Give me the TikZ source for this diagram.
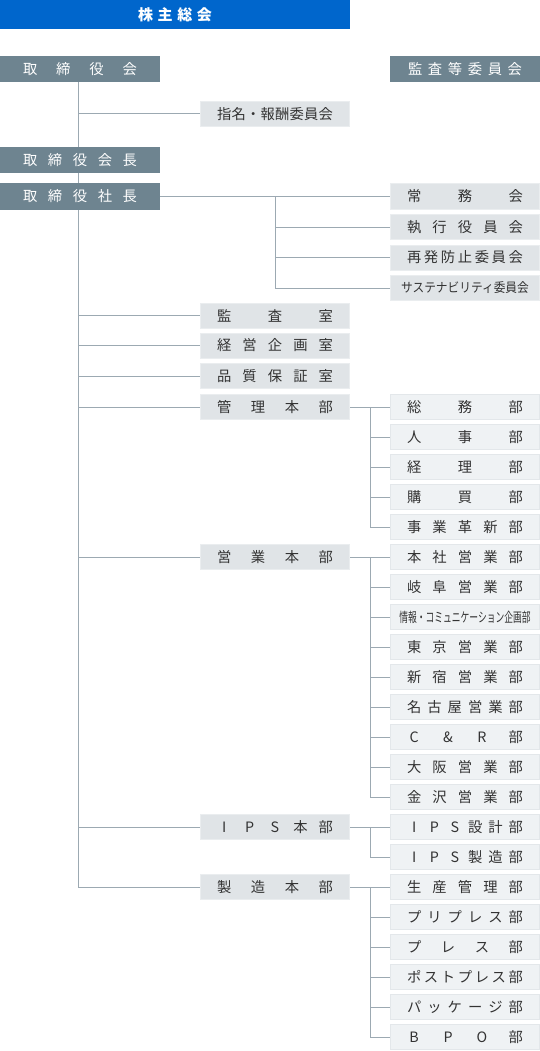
\documentclass[tikz,border=0pt]{standalone}
\usepackage{fontspec}
\setmainfont{Noto Sans CJK JP}
\usepackage{graphicx}
\usetikzlibrary{backgrounds}
\definecolor{blueh}{HTML}{0066CC}
\definecolor{headc}{HTML}{6E8490}
\definecolor{midc}{HTML}{E0E4E7}
\definecolor{midb}{HTML}{EAEDEF}
\definecolor{subc}{HTML}{EFF2F4}
\definecolor{subb}{HTML}{E3E7EA}
\definecolor{linec}{HTML}{9CA9B2}
\definecolor{txtc}{HTML}{333333}
\newlength\distw
\setlength\distw{116pt}
\makeatletter
\def\dist#1{\makebox[\distw][s]{\dist@a#1\@nil}}
\def\dist@a#1#2\@nil{\makebox[1em]{#1}\ifx\relax#2\relax\else\hfill\dist@a#2\@nil\fi}
\makeatother
\begin{document}
\begin{tikzpicture}[x=1pt,y=-1pt,
  head/.style={fill=headc, text=white, minimum width=160pt, minimum height=26pt, inner sep=0pt, font=\fontsize{14.3}{14.3}\selectfont},
  mid/.style={fill=midc, draw=midb, line width=0.8pt, minimum width=149.2pt, minimum height=25.2pt, inner sep=0pt, text=txtc, font=\fontsize{14.3}{14.3}\selectfont},
  sub/.style={mid, fill=subc, draw=subb},
  conn/.style={draw=linec, line width=1pt}]
\useasboundingbox (0,0) rectangle (540,1051);
% top
\node[fill=blueh, text=white, minimum width=350pt, minimum height=29pt, inner sep=0pt, font=\fontsize{15}{15}\selectfont\bfseries] (kabu) at (175,14.5) {\setlength\distw{74pt}\dist{株主総会}};
\node[head] (tori) at (80,69) {\setlength\distw{114pt}\dist{取締役会}};
\node[head, minimum width=150pt] (kansa) at (465,69) {\setlength\distw{114pt}\dist{監査等委員会}};
\node[mid] (shimei) at (275,114) {\dist{指名・報酬委員会}};
\node[head] (kaicho) at (80,160) {\setlength\distw{114pt}\dist{取締役会長}};
\node[head] (shacho) at (80,196.5) {\setlength\distw{114pt}\dist{取締役社長}};
% committees
\node[mid] (jomu) at (465,196.5) {\dist{常務会}};
\node[mid] (shikko) at (465,227) {\dist{執行役員会}};
\node[mid] (saihatsu) at (465,257.5) {\dist{再発防止委員会}};
\node[mid] (sus) at (465,288) {\fontsize{13}{13}\selectfont\scalebox{0.9}[1]{サステナビリティ委員会}};
% middle column
\node[mid] (kansashitsu) at (275,315.5) {\dist{監査室}};
\node[mid] (keiei) at (275,345.5) {\dist{経営企画室}};
\node[mid] (hinshitsu) at (275,376) {\dist{品質保証室}};
\node[mid] (kanri) at (275,407) {\dist{管理本部}};
\node[mid] (eigyo) at (275,557) {\dist{営業本部}};
\node[mid] (ips) at (275,827) {\dist{IPS本部}};
\node[mid] (seizo) at (275,887) {\dist{製造本部}};
% right column
\node[sub] (r0) at (465,407) {\dist{総務部}};
\node[sub] (r1) at (465,437) {\dist{人事部}};
\node[sub] (r2) at (465,467) {\dist{経理部}};
\node[sub] (r3) at (465,497) {\dist{購買部}};
\node[sub] (r4) at (465,527) {\dist{事業革新部}};
\node[sub] (r5) at (465,557) {\dist{本社営業部}};
\node[sub] (r6) at (465,587) {\dist{岐阜営業部}};
\node[sub] (r7) at (465,617) {\fontsize{13.5}{13.5}\selectfont\scalebox{0.65}[1]{情報・コミュニケーション企画部}};
\node[sub] (r8) at (465,647) {\dist{東京営業部}};
\node[sub] (r9) at (465,677) {\dist{新宿営業部}};
\node[sub] (r10) at (465,707) {\dist{名古屋営業部}};
\node[sub] (r11) at (465,737) {\dist{C\&R部}};
\node[sub] (r12) at (465,767) {\dist{大阪営業部}};
\node[sub] (r13) at (465,797) {\dist{金沢営業部}};
\node[sub] (r14) at (465,827) {\dist{IPS設計部}};
\node[sub] (r15) at (465,857) {\dist{IPS製造部}};
\node[sub] (r16) at (465,887) {\dist{生産管理部}};
\node[sub] (r17) at (465,917) {\dist{プリプレス部}};
\node[sub] (r18) at (465,947) {\dist{プレス部}};
\node[sub] (r19) at (465,977) {\dist{ポストプレス部}};
\node[sub] (r20) at (465,1007) {\dist{パッケージ部}};
\node[sub] (r21) at (465,1037) {\dist{BPO部}};
% connectors
\coordinate (trunkTop) at (78,82);
\coordinate (trunkBot) at (78,887);
\coordinate (b1) at (275,196.5);
\coordinate (bk) at (370,407);
\coordinate (be) at (370,557);
\coordinate (bi) at (370,827);
\coordinate (bs) at (370,887);
\begin{pgfonlayer}{background}
\draw[conn] (trunkTop) -- (trunkBot);
\foreach \n in {shimei,kansashitsu,keiei,hinshitsu,kanri,eigyo,ips,seizo}
  \draw[conn] (trunkTop |- \n.west) -- (\n.west);
\draw[conn] (shacho.east) -- (jomu.west);
\draw[conn] (b1) -- (b1 |- sus.west);
\foreach \n in {shikko,saihatsu,sus}
  \draw[conn] (b1 |- \n.west) -- (\n.west);
\draw[conn] (kanri.east) -- (r0.west);
\draw[conn] (bk) -- (bk |- r4.west);
\foreach \n in {r1,r2,r3,r4}
  \draw[conn] (bk |- \n.west) -- (\n.west);
\draw[conn] (eigyo.east) -- (r5.west);
\draw[conn] (be) -- (be |- r13.west);
\foreach \n in {r6,r7,r8,r9,r10,r11,r12,r13}
  \draw[conn] (be |- \n.west) -- (\n.west);
\draw[conn] (ips.east) -- (r14.west);
\draw[conn] (bi) -- (bi |- r15.west);
\draw[conn] (bi |- r15.west) -- (r15.west);
\draw[conn] (seizo.east) -- (r16.west);
\draw[conn] (bs) -- (bs |- r21.west);
\foreach \n in {r17,r18,r19,r20,r21}
  \draw[conn] (bs |- \n.west) -- (\n.west);
\end{pgfonlayer}
\end{tikzpicture}
\end{document}
